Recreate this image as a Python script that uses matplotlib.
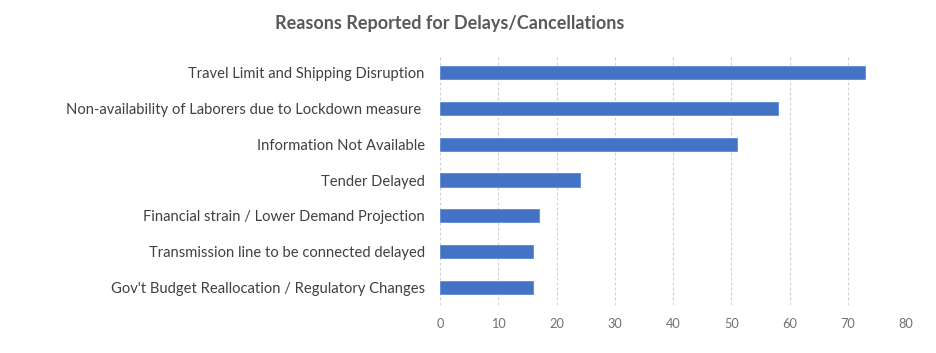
import matplotlib
matplotlib.use("Agg")
import matplotlib.pyplot as plt

categories = [
    "Travel Limit and Shipping Disruption",
    "Non-availability of Laborers due to Lockdown measure ",
    "Information Not Available",
    "Tender Delayed",
    "Financial strain / Lower Demand Projection",
    "Transmission line to be connected delayed",
    "Gov't Budget Reallocation / Regulatory Changes",
]
values = [73, 58, 51, 24, 17, 16, 16]
xticks = [0, 10, 20, 30, 40, 50, 60, 70, 80]

plt.rcParams['font.family'] = ['Lato', 'DejaVu Sans']

fig = plt.figure(figsize=(9.36, 3.53), dpi=100)
ax = fig.add_axes([440/936, 1-305/353, 466/936, 250/353])

ypos = list(range(len(categories)))
ax.barh(ypos, values, height=0.37, color='#4472C4', edgecolor='#5B8BD6', linewidth=0.6, zorder=3)
ax.set_ylim(len(categories)-0.5, -0.5)
ax.set_xlim(0, 80)
ax.set_yticks(ypos)
ax.set_yticklabels(categories, fontsize=10.6, color='#404040')
ax.set_xticks(xticks)
ax.set_xticklabels([str(t) for t in xticks], fontsize=9.2, color='#707070')
ax.tick_params(axis='both', length=0)
ax.tick_params(axis='y', pad=11)
ax.tick_params(axis='x', pad=9)
for s in ax.spines.values():
    s.set_visible(False)
ax.grid(axis='x', color='#D0D0D0', linestyle=(0, (2.5, 2)), linewidth=0.8, zorder=0)
ax.grid(axis='y', visible=False)

fig.text(450/936, 1-23/353, "Reasons Reported for Delays/Cancellations",
         ha='center', va='center', fontsize=13, fontweight='bold', color='#595959')

fig.savefig("out.png", dpi=100)
